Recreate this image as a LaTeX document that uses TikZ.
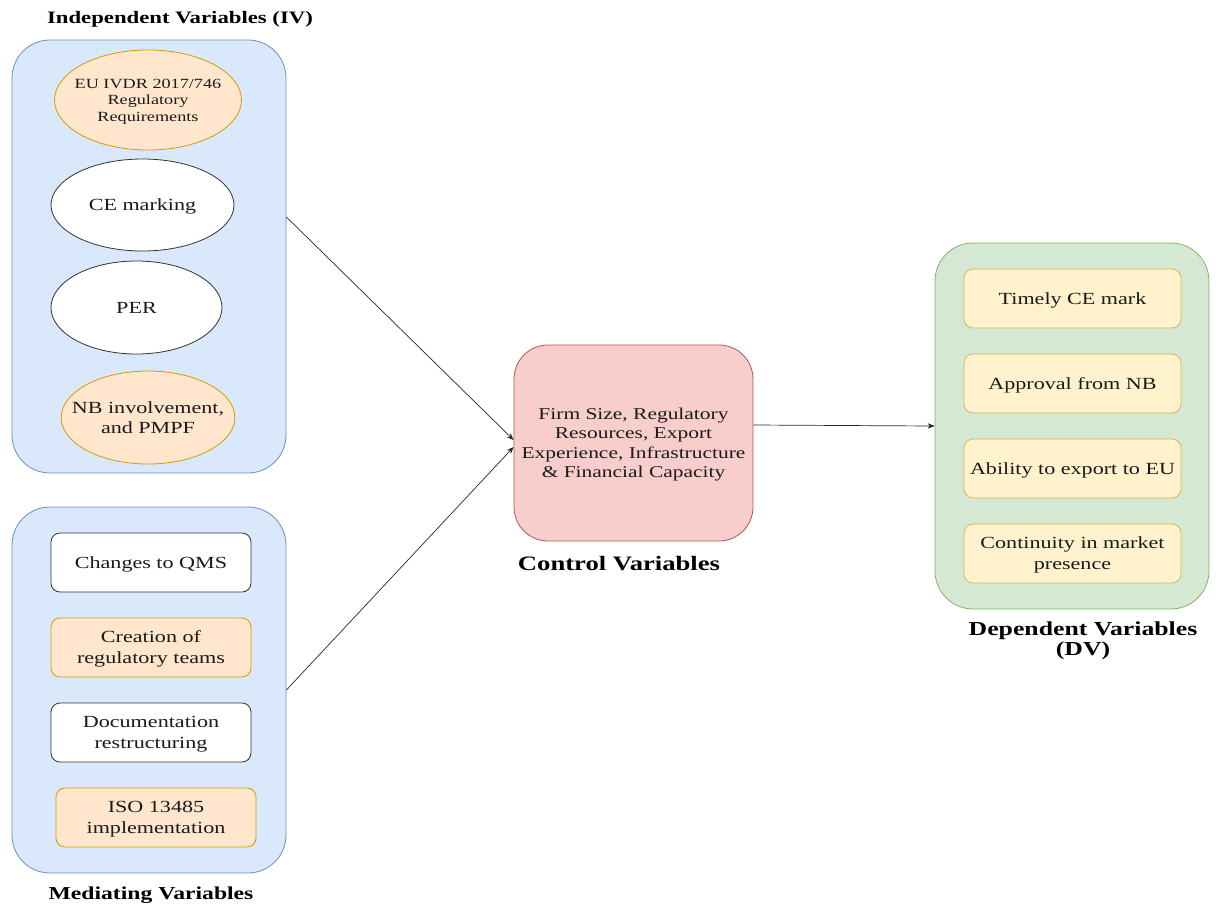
\documentclass[tikz,border=0pt]{standalone}
\usepackage{fontspec}
\setmainfont{Liberation Serif}[FakeStretch=1.3]
\usetikzlibrary{arrows.meta,shapes.geometric}
\definecolor{bluef}{HTML}{DAE8FC}\definecolor{blues}{HTML}{6C8EBF}
\definecolor{orf}{HTML}{FFE6CC}\definecolor{ors}{HTML}{D79B00}
\definecolor{redf}{HTML}{F8CECC}\definecolor{reds}{HTML}{B85450}
\definecolor{grf}{HTML}{D5E8D4}\definecolor{grs}{HTML}{82B366}
\definecolor{yef}{HTML}{FFF2CC}\definecolor{yes}{HTML}{D6B656}
\definecolor{txt}{HTML}{1A1A1A}
\newcommand{\tx}[1]{\raisebox{-1.5pt}[\height][\depth]{\begin{tabular}{@{}c@{}}#1\end{tabular}}}
\tikzset{
  ell/.style={ellipse, draw=#1, line width=0.8pt, inner sep=0pt, text=txt,
     font=\fontsize{17}{20}\selectfont},
  itembox/.style={rectangle, rounded corners=9pt, line width=0.8pt, inner sep=0pt,
     minimum width=200pt, minimum height=59pt, text=txt,
     font=\fontsize{17}{20.5}\selectfont},
  ttl/.style={font=\bfseries\fontsize{#1}{20}\selectfont, align=center, text=black},
  conn/.style={-{Stealth[length=7pt,width=5.5pt]}, line width=0.7pt, draw=black!85},
}
\begin{document}
\begin{tikzpicture}[x=1pt,y=-1pt]
\useasboundingbox (0,0) rectangle (1216,906);
% containers
\node[draw=blues, fill=bluef, rounded corners=38pt, line width=0.8pt, minimum width=274pt, minimum height=433pt] (iv) at (149,256.5) {};
\node[draw=blues, fill=bluef, rounded corners=38pt, line width=0.8pt, minimum width=274pt, minimum height=366pt] (med) at (149,690) {};
\node[draw=grs, fill=grf, rounded corners=38pt, line width=0.8pt, minimum width=274pt, minimum height=366pt] (dv) at (1072,426) {};
% titles
\node[ttl=17.5] (tiv) at (180,19.5) {Independent Variables (IV)};
\node[ttl=18.2] (tmed) at (151,895) {Mediating Variables};
\node[ttl=19.8] (tdv) at (1083,641) {Dependent Variables\\(DV)};
\node[ttl=20.5] (tctrl) at (619,564) {Control Variables};
% IV ellipses
\node[ell=ors, fill=orf, minimum width=186pt, minimum height=100pt, inner xsep=-7.2pt, font=\fontsize{14}{16.5}\selectfont] (e1) at (148,100) {\tx{EU IVDR 2017/746\\Regulatory\\Requirements}};
\node[ell=black!80, fill=white, minimum width=183pt, minimum height=92pt] (e2) at (142.5,205) {\tx{CE marking}};
\node[ell=black!80, fill=white, minimum width=171pt, minimum height=93pt] (e3) at (136.5,307.5) {\tx{PER}};
\node[ell=ors, fill=orf, minimum width=172pt, minimum height=93pt, inner xsep=-14.7pt] (e4) at (148,417.5) {\tx{NB involvement,\\and PMPF}};
% mediating boxes
\node[itembox, draw=black!80, fill=white] (m1) at (151,562.5) {\tx{Changes to QMS}};
\node[itembox, draw=ors, fill=orf] (m2) at (151,647.5) {\tx{Creation of\\regulatory teams}};
\node[itembox, draw=black!80, fill=white] (m3) at (151,732.5) {\tx{Documentation\\restructuring}};
\node[itembox, draw=ors, fill=orf] (m4) at (156,817.5) {\tx{ISO 13485\\implementation}};
% control
\node[draw=reds, fill=redf, rounded corners=34pt, line width=0.8pt, minimum width=239pt, minimum height=196pt, text=txt, font=\fontsize{16.5}{19.5}\selectfont] (ctrl) at (633.5,443) {\tx{Firm Size, Regulatory\\Resources, Export\\Experience, Infrastructure\\\& Financial Capacity}};
% DV boxes
\node[itembox, draw=yes, fill=yef, minimum width=217pt] (d1) at (1072.5,298.5) {\tx{Timely CE mark}};
\node[itembox, draw=yes, fill=yef, minimum width=217pt] (d2) at (1072.5,383.5) {\tx{Approval from NB}};
\node[itembox, draw=yes, fill=yef, minimum width=217pt] (d3) at (1072.5,468.5) {\tx{Ability to export to EU}};
\node[itembox, draw=yes, fill=yef, minimum width=217pt] (d4) at (1072.5,553.5) {\tx{Continuity in market\\presence}};
% connectors
\draw[conn] ([yshift=39.5pt]iv.east) -- ([yshift=3pt]ctrl.west);
\draw[conn] (med.east) -- ([yshift=-4pt]ctrl.west);
\draw[conn] ([yshift=18pt]ctrl.east) -- (dv.west);
\end{tikzpicture}
\end{document}
